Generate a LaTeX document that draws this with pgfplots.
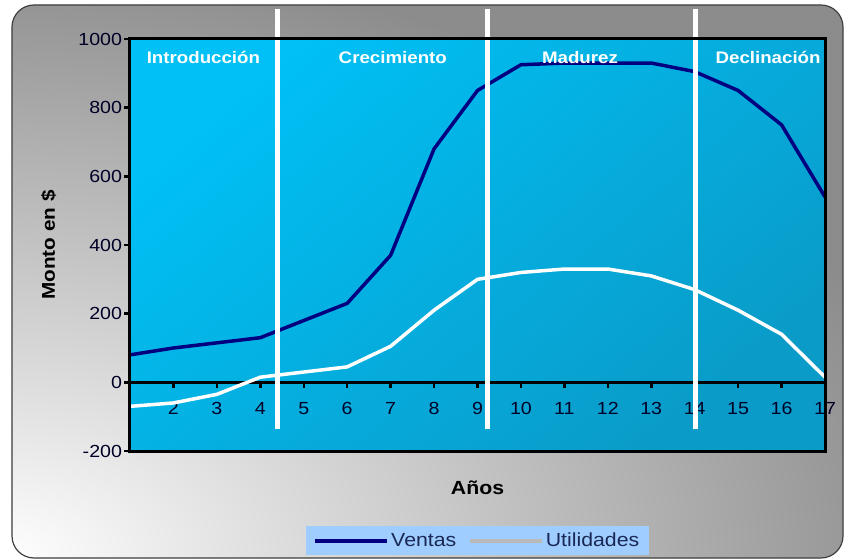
\documentclass[border=0pt]{standalone}
\usepackage{fontspec}
\setmainfont{Liberation Sans}[FakeStretch=1.12]
\usepackage{pgfplots}
\pgfplotsset{compat=1.18}

\definecolor{ventas}{RGB}{0,0,128}
\definecolor{plottop}{RGB}{0,192,245}
\definecolor{plotbottom}{RGB}{10,155,200}
\definecolor{legfill}{RGB}{160,205,255}
\definecolor{legtext}{RGB}{25,40,85}

\begin{document}
\begin{tikzpicture}[x=1pt,y=1pt]
\useasboundingbox (-130,-109) rectangle (717,451);
% marco exterior
\begin{scope}
  \clip[rounded corners=22pt] (-118,-107) rectangle (713,446);
  \fill[gray!90] (-130,-109) rectangle (717,451);
  \shade[inner color=white, outer color=gray!90] (-130,-109) ellipse [x radius=950, y radius=600];
\end{scope}
\draw[line width=1.2pt, black!75, rounded corners=22pt] (-118,-107) rectangle (713,446);

\begin{axis}[
    at={(0,0)}, anchor=south west,
    scale only axis,
    width=695pt, height=412pt,
    xmin=1, xmax=17,
    ymin=-200, ymax=1000,
    axis x line*=middle,
    axis y line*=left,
    axis line style={-, line width=3pt, black},
    hide obscured x ticks=false,
    hide obscured y ticks=false,
    xtick={2,...,17},
    ytick={-200,0,...,1000},
    tick align=outside,
    major tick length=5.5pt,
    tick style={line width=2.5pt, black},
    /pgf/number format/assume math mode=true,
    /pgf/number format/1000 sep={},
    ticklabel style={font=\fontsize{17.5}{19}\selectfont, text=black!85!blue},
    xticklabel style={anchor=north, yshift=-11pt},
    yticklabel style={xshift=1pt},
    axis background/.style={shading=axis, top color=plottop, bottom color=plotbottom, shading angle=40},
    every axis x label/.style={at={(axis description cs:0.5,-0.09)}, anchor=center,
        font=\bfseries\fontsize{19}{21}\selectfont},
    every axis y label/.style={at={(axis description cs:-0.117,0.5)}, rotate=90, anchor=center,
        font=\bfseries\fontsize{18.5}{20}\selectfont},
    xlabel={Años},
    ylabel={Monto en \$},
    legend style={at={(0.5,-0.218)}, anchor=center, fill=legfill, draw=none,
        legend columns=2, font=\fontsize{19}{21}\selectfont, text=legtext,
        inner xsep=8pt, inner ysep=5pt,
        /tikz/every even column/.append style={column sep=10pt}},
    legend image code/.code={\draw[#1] (0pt,0pt) -- (72pt,0pt);},
    clip=false,
]
\addplot[ventas, line width=3.5pt] coordinates {
    (1,80) (2,100) (3,115) (4,130) (5,180) (6,230) (7,370) (8,680) (9,850)
    (10,925) (11,930) (12,930) (13,930) (14,905) (15,850) (16,750) (17,540)
};
\addlegendentry{Ventas}
\addplot[white, line width=3.5pt, forget plot] coordinates {
    (1,-70) (2,-60) (3,-35) (4,15) (5,30) (6,45) (7,105) (8,210) (9,300)
    (10,320) (11,330) (12,330) (13,310) (14,270) (15,210) (16,140) (17,15)
};
\addlegendimage{gray!55, line width=3.5pt}
\addlegendentry{Utilidades}

% divisiones de etapas
\draw[white, line width=5pt] (axis cs:4.40,-137) -- (axis cs:4.40,1087);
\draw[white, line width=5pt] (axis cs:9.23,-137) -- (axis cs:9.23,1087);
\draw[white, line width=5pt] (axis cs:14.03,-137) -- (axis cs:14.03,1087);

\draw[line width=3pt, black] (rel axis cs:0,0) rectangle (rel axis cs:1,1);

\begin{scope}[every node/.style={white, font=\bfseries\fontsize{16.7}{18}\selectfont}]
\node at (axis cs:2.69,945) {Introducción};
\node at (axis cs:7.05,945) {Crecimiento};
\node at (axis cs:11.36,945) {Madurez};
\node at (axis cs:15.69,945) {Declinación};
\end{scope}
\end{axis}
\end{tikzpicture}
\end{document}
